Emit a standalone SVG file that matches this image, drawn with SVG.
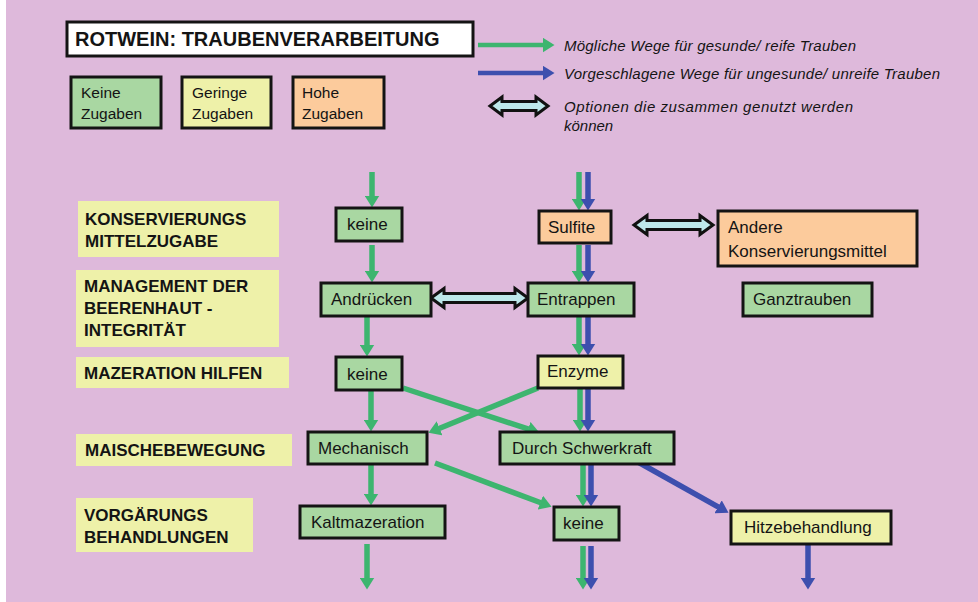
<svg xmlns="http://www.w3.org/2000/svg" width="978" height="602" viewBox="0 0 978 602">
<style>
  text { font-family: "Liberation Sans", Arial, sans-serif; fill: #141414; }
  .node { stroke: #141414; stroke-width: 3; }
  .gr { fill: #A9D7A2; }
  .ye { fill: #EEF1A9; }
  .or { fill: #FCCB9C; }
  .lab { fill: #EEF1A9; }
  .lt { font-size: 17px; font-weight: bold; }
  .nt { font-size: 17px; }
  .kt { font-size: 15.5px; }
  .it { font-size: 15px; font-style: italic; }
  .g { stroke: #3DB56F; stroke-width: 5.5; fill: none; marker-end: url(#ag); }
  .b { stroke: #3D4FAE; stroke-width: 5.5; fill: none; marker-end: url(#ab); }
  .dbl { fill: #BDE8EA; stroke: #111; stroke-width: 3; stroke-linejoin: miter; }
</style>
<defs>
  <marker id="ag" markerUnits="userSpaceOnUse" viewBox="0 -7.5 12 15" refX="0.5" refY="0" markerWidth="12" markerHeight="15" orient="auto">
    <path d="M0,-7.5 L12,0 L0,7.5 z" fill="#3DB56F"/>
  </marker>
  <marker id="ab" markerUnits="userSpaceOnUse" viewBox="0 -7.5 12 15" refX="0.5" refY="0" markerWidth="12" markerHeight="15" orient="auto">
    <path d="M0,-7.5 L12,0 L0,7.5 z" fill="#3D4FAE"/>
  </marker>
</defs>
<rect x="0" y="0" width="978" height="602" fill="#FFFFFF"/>
<rect x="6" y="0" width="972" height="602" fill="#DEB9DB"/>

<g id="title">
  <rect x="67" y="22" width="406" height="34" fill="#FFFFFF" stroke="#141414" stroke-width="3"/>
  <text x="75" y="46" style="font-size:20px;font-weight:bold">ROTWEIN: TRAUBENVERARBEITUNG</text>
</g>

<g id="legend-keine">
  <rect class="node gr" x="71" y="77" width="90" height="51"/>
  <text class="kt" x="81" y="98">Keine</text>
  <text class="kt" x="81" y="119">Zugaben</text>
</g>
<g id="legend-geringe">
  <rect class="node ye" x="182" y="77" width="89" height="51"/>
  <text class="kt" x="192" y="98">Geringe</text>
  <text class="kt" x="192" y="119">Zugaben</text>
</g>
<g id="legend-hohe">
  <rect class="node or" x="293" y="77" width="91" height="51"/>
  <text class="kt" x="302" y="98">Hohe</text>
  <text class="kt" x="302" y="119">Zugaben</text>
</g>

<g id="legend-lines">
  <line class="g" x1="478" y1="45" x2="543" y2="45" style="stroke-width:4.5"/>
  <text class="it" x="564" y="51" textLength="292" lengthAdjust="spacing">Mögliche Wege für gesunde/ reife Trauben</text>
  <line class="b" x1="478" y1="73" x2="543" y2="73" style="stroke-width:4.5"/>
  <text class="it" x="564" y="79" textLength="376" lengthAdjust="spacing">Vorgeschlagene Wege für ungesunde/ unreife Trauben</text>
  <polygon class="dbl" points="490,106 502,97 502,101.5 536,101.5 536,97 548,106 536,115 536,110.5 502,110.5 502,115"/>
  <text class="it" x="564" y="112" textLength="289" lengthAdjust="spacing">Optionen die zusammen genutzt werden</text>
  <text class="it" x="564" y="131">können</text>
</g>

<g id="label-konservierung">
  <rect class="lab" x="78" y="201" width="201" height="56"/>
  <text class="lt" x="85" y="225">KONSERVIERUNGS</text>
  <text class="lt" x="85" y="247">MITTELZUGABE</text>
</g>
<g id="label-management">
  <rect class="lab" x="76" y="270" width="203" height="77"/>
  <text class="lt" x="84" y="292">MANAGEMENT DER</text>
  <text class="lt" x="84" y="314">BEERENHAUT -</text>
  <text class="lt" x="84" y="336">INTEGRITÄT</text>
</g>
<g id="label-mazeration">
  <rect class="lab" x="76" y="357" width="213" height="31"/>
  <text class="lt" x="84" y="379">MAZERATION HILFEN</text>
</g>
<g id="label-maische">
  <rect class="lab" x="76" y="434" width="216" height="32"/>
  <text class="lt" x="85" y="456">MAISCHEBEWEGUNG</text>
</g>
<g id="label-vorgaerung">
  <rect class="lab" x="76" y="498" width="177" height="54"/>
  <text class="lt" x="84" y="521">VORGÄRUNGS</text>
  <text class="lt" x="84" y="543">BEHANDLUNGEN</text>
</g>

<g id="connectors">
  <line class="g" x1="372" y1="172" x2="372" y2="196"/>
  <line class="g" x1="372" y1="245" x2="372" y2="271"/>
  <line class="g" x1="367" y1="317" x2="367" y2="345"/>
  <line class="g" x1="371" y1="391" x2="371" y2="420"/>
  <line class="g" x1="371" y1="465" x2="371" y2="494"/>
  <line class="g" x1="367" y1="544" x2="367" y2="578"/>

  <line class="g" x1="579" y1="172" x2="579" y2="199"/>
  <line class="b" x1="588" y1="172" x2="588" y2="199"/>
  <line class="g" x1="579" y1="245" x2="579" y2="271"/>
  <line class="b" x1="588" y1="245" x2="588" y2="271"/>
  <line class="g" x1="579" y1="317" x2="579" y2="344"/>
  <line class="b" x1="588" y1="317" x2="588" y2="344"/>
  <line class="g" x1="580" y1="389" x2="580" y2="420"/>
  <line class="b" x1="588" y1="389" x2="588" y2="420"/>
  <line class="g" x1="583" y1="465" x2="583" y2="495"/>
  <line class="b" x1="591" y1="465" x2="591" y2="495"/>
  <line class="g" x1="583" y1="546" x2="583" y2="578"/>
  <line class="b" x1="591" y1="546" x2="591" y2="578"/>

  <line class="g" x1="403" y1="388" x2="528.6" y2="429.2"/>
  <line class="g" x1="538" y1="388" x2="439.1" y2="428.5"/>
  <line class="g" x1="435" y1="463" x2="540.8" y2="502.8"/>
  <line class="b" x1="638" y1="462" x2="718.5" y2="507.1"/>
  <line class="b" x1="808" y1="545" x2="808" y2="578"/>

  <polygon class="dbl" points="431,298 444,288.5 444,293.5 515,293.5 515,288.5 528,298 515,307.5 515,302.5 444,302.5 444,307.5"/>
  <polygon class="dbl" points="634,225 647,215.5 647,220.5 700,220.5 700,215.5 713,225 700,234.5 700,229.5 647,229.5 647,234.5"/>
</g>

<g id="n-keine1">
  <rect class="node gr" x="336" y="208" width="66" height="33"/>
  <text class="nt" x="347" y="230">keine</text>
</g>
<g id="n-andruecken">
  <rect class="node gr" x="321" y="283" width="110" height="33"/>
  <text class="nt" x="331" y="305">Andrücken</text>
</g>
<g id="n-keine2">
  <rect class="node gr" x="336" y="357" width="66" height="33"/>
  <text class="nt" x="347" y="380">keine</text>
</g>
<g id="n-mechanisch">
  <rect class="node gr" x="308" y="432" width="119" height="32"/>
  <text class="nt" x="318" y="454">Mechanisch</text>
</g>
<g id="n-kaltmazeration">
  <rect class="node gr" x="300" y="506" width="145" height="32"/>
  <text class="nt" x="311" y="528">Kaltmazeration</text>
</g>
<g id="n-sulfite">
  <rect class="node or" x="539" y="211" width="72" height="32"/>
  <text class="nt" x="548" y="233">Sulfite</text>
</g>
<g id="n-andere">
  <rect class="node or" x="718" y="211" width="199" height="55"/>
  <text class="nt" x="728" y="233">Andere</text>
  <text class="nt" x="728" y="257">Konservierungsmittel</text>
</g>
<g id="n-entrappen">
  <rect class="node gr" x="528" y="283" width="106" height="33"/>
  <text class="nt" x="537" y="305">Entrappen</text>
</g>
<g id="n-ganztrauben">
  <rect class="node gr" x="743" y="283" width="129" height="33"/>
  <text class="nt" x="753" y="305">Ganztrauben</text>
</g>
<g id="n-enzyme">
  <rect class="node ye" x="538" y="356" width="85" height="32"/>
  <text class="nt" x="547" y="377">Enzyme</text>
</g>
<g id="n-schwerkraft">
  <rect class="node gr" x="500" y="432" width="174" height="32"/>
  <text class="nt" x="512" y="454">Durch Schwerkraft</text>
</g>
<g id="n-keine3">
  <rect class="node gr" x="554" y="507" width="65" height="33"/>
  <text class="nt" x="563" y="529">keine</text>
</g>
<g id="n-hitze">
  <rect class="node ye" x="731" y="511" width="160" height="33"/>
  <text class="nt" x="744" y="533">Hitzebehandlung</text>
</g>
</svg>
